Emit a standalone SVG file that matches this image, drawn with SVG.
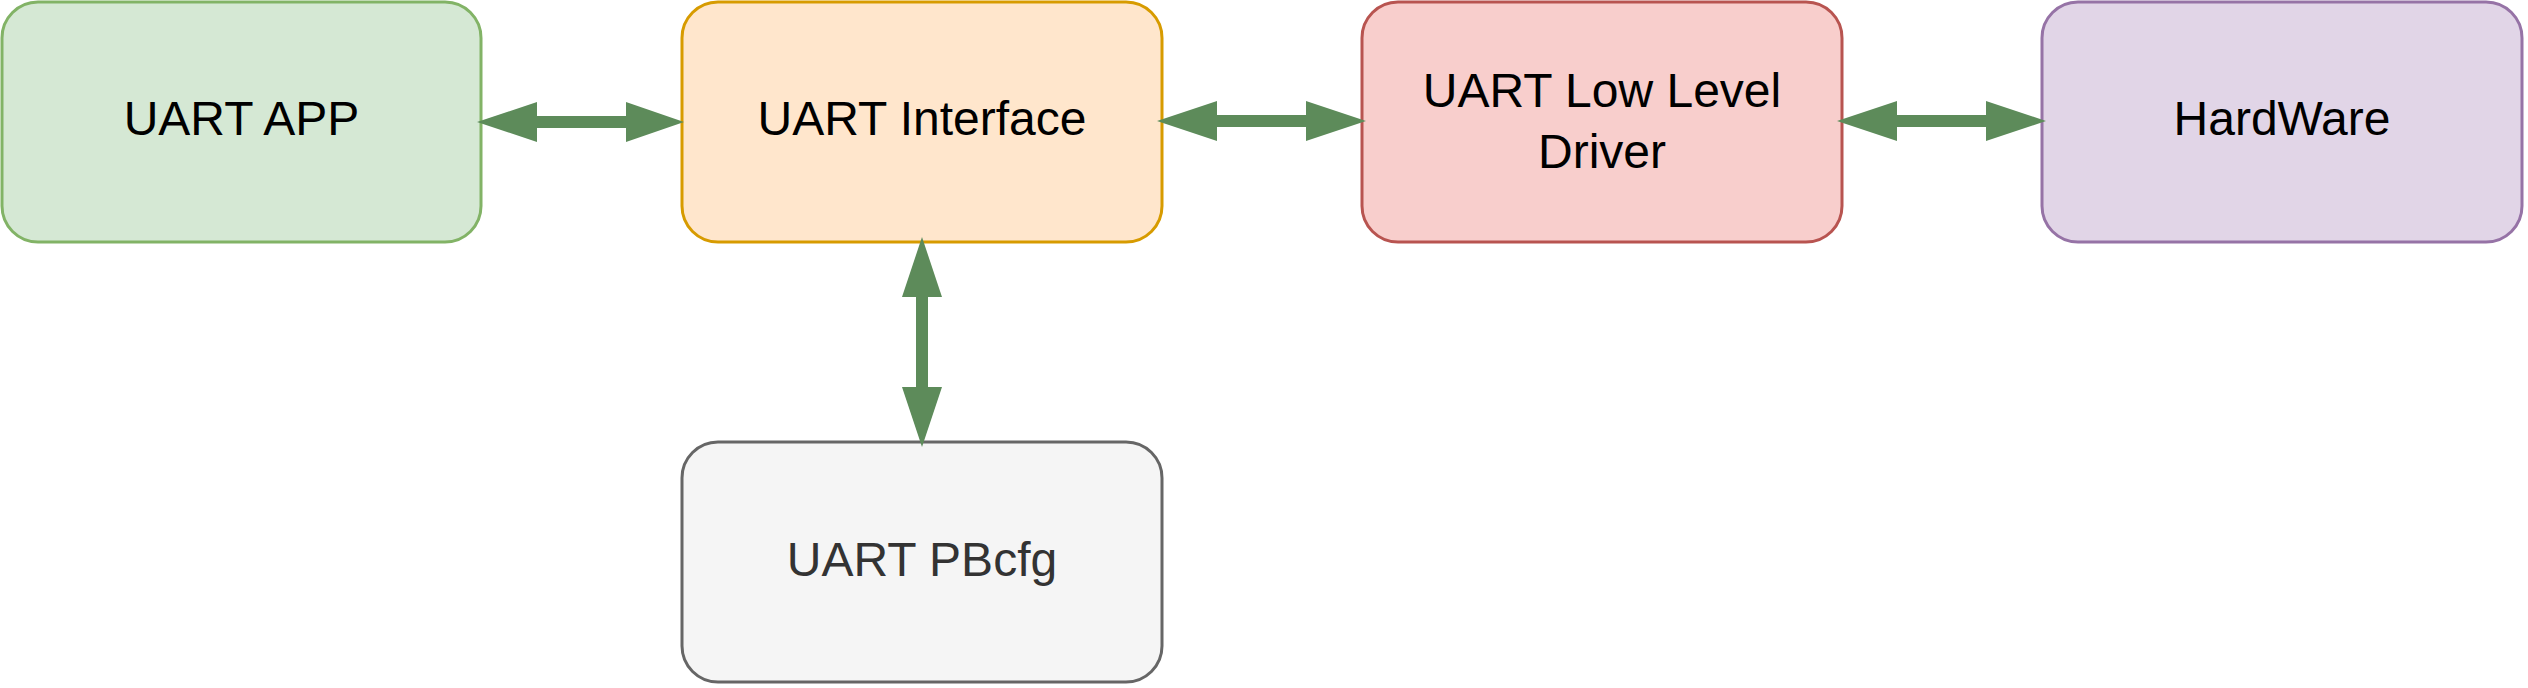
<svg xmlns="http://www.w3.org/2000/svg" width="2528" height="688" viewBox="0 0 2528 688">
<style>
.box{stroke-width:3}
.lbl{font-family:"Liberation Sans",Arial,Helvetica,sans-serif;font-size:48px;text-anchor:middle;fill:#000}
.arrow{fill:#5d8b5a;stroke:none}
</style>
<rect width="2528" height="688" fill="#ffffff"/>
<g id="node-uart-app">
<rect class="box" x="2" y="2" width="479" height="240" rx="36" ry="36" fill="#d5e8d4" stroke="#82b366"/>
<text class="lbl" x="241.5" y="135">UART APP</text>
</g>
<g id="node-uart-interface">
<rect class="box" x="682" y="2" width="480" height="240" rx="36" ry="36" fill="#ffe6cc" stroke="#d79b00"/>
<text class="lbl" x="922" y="135">UART Interface</text>
</g>
<g id="node-uart-lld">
<rect class="box" x="1362" y="2" width="480" height="240" rx="36" ry="36" fill="#f8cecc" stroke="#b85450"/>
<text class="lbl" x="1602" y="107">UART Low Level</text>
<text class="lbl" x="1602" y="168">Driver</text>
</g>
<g id="node-hardware">
<rect class="box" x="2042" y="2" width="480" height="240" rx="36" ry="36" fill="#e1d5e7" stroke="#9673a6"/>
<text class="lbl" x="2282" y="135">HardWare</text>
</g>
<g id="node-uart-pbcfg">
<rect class="box" x="682" y="442" width="480" height="240" rx="36" ry="36" fill="#f5f5f5" stroke="#666666"/>
<text class="lbl" x="922" y="576" style="fill:#333333">UART PBcfg</text>
</g>
<g id="connectors">
<polygon class="arrow" points="477,122 537,102 537,116 626,116 626,102 684,122 626,142 626,128 537,128 537,142"/>
<polygon class="arrow" points="1157,121 1217,101 1217,115 1306,115 1306,101 1366,121 1306,141 1306,127 1217,127 1217,141"/>
<polygon class="arrow" points="1837,121 1897,101 1897,115 1986,115 1986,101 2046,121 1986,141 1986,127 1897,127 1897,141"/>
<polygon class="arrow" points="922,237 942,297 928,297 928,387 942,387 922,447 902,387 916,387 916,297 902,297"/>
</g>
</svg>
